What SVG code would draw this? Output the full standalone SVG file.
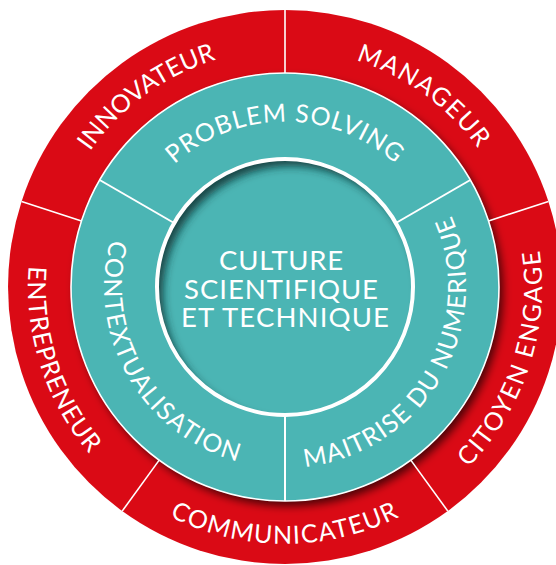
<svg xmlns="http://www.w3.org/2000/svg" width="556" height="565" viewBox="0 0 556 565">
<style>
.red{fill:#DA0A15}
.teal{fill:#4BB5B4}
.lbl{fill:#fff;font-family:Lato,"Liberation Sans",sans-serif;font-size:25px}
.ctr{fill:#fff;font-family:Lato,"Liberation Sans",sans-serif;font-size:27.5px}
.div{stroke:#fff;stroke-width:1.6;fill:none}
.tdiv{stroke:#fff;stroke-width:2;fill:none}
</style>
<defs>
<filter id="drop" x="-20%" y="-20%" width="140%" height="140%">
<feDropShadow dx="4" dy="5" stdDeviation="4" flood-color="#000" flood-opacity="0.65"/>
</filter>
<filter id="blur" x="-20%" y="-20%" width="140%" height="140%">
<feGaussianBlur stdDeviation="4"/>
</filter>
<clipPath id="innerClip"><circle cx="285" cy="287" r="127"/></clipPath>
<path id="pInnov" d="M 81.8 409.1 A 237 237 0 0 1 463.9 131.5"/>
<path id="pManag" d="M 106.1 131.5 A 237 237 0 0 1 488.2 409.1"/>
<path id="pEntre" d="M 184.6 50.4 A 257 257 0 0 0 342.8 537.4"/>
<path id="pCommu" d="M 29.0 309.4 A 257 257 0 0 0 541.0 309.4"/>
<path id="pCitoy" d="M 227.2 537.4 A 257 257 0 0 0 385.4 50.4"/>
<path id="pProb" d="M 120.6 272.6 A 165 165 0 0 1 449.4 272.6"/>
<path id="pCont" d="M 181.2 138.7 A 181 181 0 0 0 361.5 451.0"/>
<path id="pMait" d="M 208.5 451.0 A 181 181 0 0 0 388.8 138.7"/>
</defs>
<rect width="556" height="565" fill="#fff"/>
<g id="innovateur">
<path class="red" d="M 285 287 L 21.6 201.4 A 277 277 0 0 1 285 10 Z"/>
<text class="lbl"><textPath href="#pInnov" startOffset="50%" text-anchor="middle">INNOVATEUR</textPath></text>
</g>
<g id="manageur">
<path class="red" d="M 285 287 L 285 10 A 277 277 0 0 1 548.4 201.4 Z"/>
<text class="lbl" letter-spacing="1.5"><textPath href="#pManag" startOffset="50%" text-anchor="middle">MANAGEUR</textPath></text>
</g>
<g id="citoyen-engage">
<path class="red" d="M 285 287 L 548.4 201.4 A 277 277 0 0 1 447.8 511.1 Z"/>
</g>
<g id="communicateur">
<path class="red" d="M 285 287 L 447.8 511.1 A 277 277 0 0 1 122.2 511.1 Z"/>
</g>
<g id="entrepreneur">
<path class="red" d="M 285 287 L 122.2 511.1 A 277 277 0 0 1 21.6 201.4 Z"/>
</g>
<circle class="teal" cx="285" cy="287" r="214" filter="url(#drop)"/>
<g id="citoyen-engage-label"><text class="lbl" letter-spacing="1.8"><textPath href="#pCitoy" startOffset="50%" text-anchor="middle">CITOYEN ENGAGE</textPath></text></g>
<g id="communicateur-label"><text class="lbl" letter-spacing="1.3"><textPath href="#pCommu" startOffset="50%" text-anchor="middle">COMMUNICATEUR</textPath></text></g>
<g id="entrepreneur-label"><text class="lbl" letter-spacing="1"><textPath href="#pEntre" startOffset="50%" text-anchor="middle">ENTREPRENEUR</textPath></text></g>
<g id="problem-solving">
<path class="teal" d="M 285 287 L 99.7 180 A 214 214 0 0 1 470.3 180 Z"/>
<text class="lbl" letter-spacing="0.9"><textPath href="#pProb" startOffset="50%" text-anchor="middle">PROBLEM SOLVING</textPath></text>
</g>
<g id="maitrise-du-numerique">
<path class="teal" d="M 285 287 L 470.3 180 A 214 214 0 0 1 285 501 Z"/>
<text class="lbl" letter-spacing="1.2"><textPath href="#pMait" startOffset="50%" text-anchor="middle">MAITRISE DU NUMERIQUE</textPath></text>
</g>
<g id="contextualisation">
<path class="teal" d="M 285 287 L 285 501 A 214 214 0 0 1 99.7 180 Z"/>
<text class="lbl" letter-spacing="1.5"><textPath href="#pCont" startOffset="50%" text-anchor="middle">CONTEXTUALISATION</textPath></text>
</g>
<g id="connectors">
<circle cx="285" cy="287" r="214" class="div" stroke-width="2"/>
<line class="div" x1="285" y1="73" x2="285" y2="10"/>
<line class="div" x1="488.5" y1="220.9" x2="548.4" y2="201.4"/>
<line class="div" x1="410.8" y1="460.1" x2="447.8" y2="511.1"/>
<line class="div" x1="159.2" y1="460.1" x2="122.2" y2="511.1"/>
<line class="div" x1="81.5" y1="220.9" x2="21.6" y2="201.4"/>
<line class="tdiv" x1="99.7" y1="180" x2="174.1" y2="223"/>
<line class="tdiv" x1="470.3" y1="180" x2="395.9" y2="223"/>
<line class="tdiv" x1="285" y1="501" x2="285" y2="415"/>
</g>
<g id="culture-scientifique">
<circle class="teal" cx="285" cy="287" r="128"/>
<g clip-path="url(#innerClip)">
<circle cx="291" cy="294" r="142" fill="none" stroke="#0c3434" stroke-width="28" stroke-opacity="0.85" filter="url(#blur)"/>
</g>
<circle cx="285" cy="287" r="128" fill="none" stroke="#fff" stroke-width="4"/>
<text class="ctr" text-anchor="middle">
<tspan x="285" y="270" textLength="124">CULTURE</tspan>
<tspan x="285" y="298.5" textLength="194">SCIENTIFIQUE</tspan>
<tspan x="285" y="327" textLength="208">ET TECHNIQUE</tspan>
</text>
</g>
</svg>
